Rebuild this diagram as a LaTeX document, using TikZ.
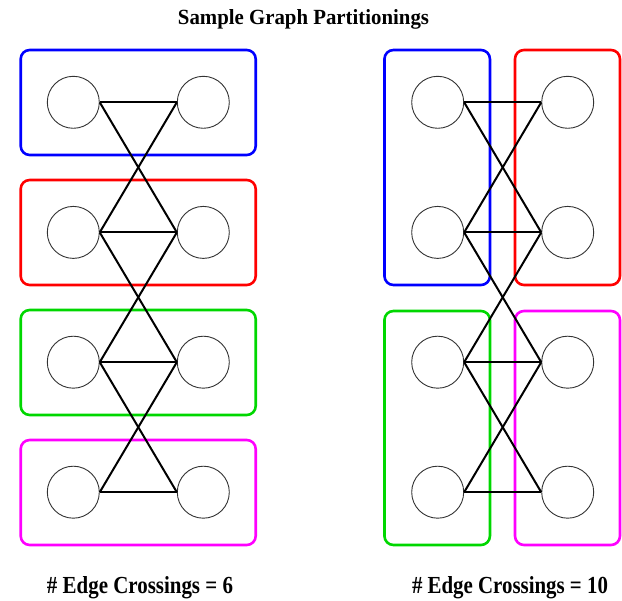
\documentclass[tikz,border=0pt]{standalone}
\usepackage{graphicx}
\usepackage{fontspec}
\setmainfont{Liberation Serif}
\definecolor{pblue}{RGB}{0,0,255}
\definecolor{pred}{RGB}{255,0,0}
\definecolor{pgreen}{RGB}{0,215,0}
\definecolor{pmag}{RGB}{255,0,255}
\tikzset{
  vtx/.style={circle, draw=black!80, line width=0.9pt, minimum size=52pt, inner sep=0pt, fill=white},
  part/.style={rectangle, rounded corners=9pt, line width=2.6pt, inner sep=0pt},
  edge/.style={line width=2pt, black},
  lbl/.style={inner sep=0pt, anchor=base}
}
\begin{document}
\begin{tikzpicture}[x=1pt, y=-1pt]
\useasboundingbox (0,0) rectangle (622,601);
% title and labels
\node[lbl] (title) at (303.5,25) {\resizebox{251pt}{15pt}{\bfseries Sample Graph Partitionings}};
\node[lbl] (cap1) at (140,594) {\resizebox{186pt}{17pt}{\bfseries \# Edge Crossings = 6}};
\node[lbl] (cap2) at (510,594) {\resizebox{196pt}{17pt}{\bfseries \# Edge Crossings = 10}};
% left partition boxes
\node[part, draw=pblue, minimum width=235pt, minimum height=105pt] (lp1) at (138.2,102.5) {};
\node[part, draw=pred, minimum width=235pt, minimum height=105pt] (lp2) at (138.2,232.5) {};
\node[part, draw=pgreen, minimum width=235pt, minimum height=105pt] (lp3) at (138.2,362.5) {};
\node[part, draw=pmag, minimum width=235pt, minimum height=105pt] (lp4) at (138.2,492.5) {};
% right partition boxes
\node[part, draw=pblue, minimum width=105.5pt, minimum height=235pt] (rp1) at (437.2,167.5) {};
\node[part, draw=pred, minimum width=105pt, minimum height=235pt] (rp2) at (567.5,167.5) {};
\node[part, draw=pgreen, minimum width=105.5pt, minimum height=234pt] (rp3) at (437.2,428) {};
\node[part, draw=pmag, minimum width=105pt, minimum height=234pt] (rp4) at (567.5,428) {};
% left graph vertices
\foreach \i/\y in {1/102.3,2/232.4,3/362.2,4/492.2}{
  \node[vtx] (la\i) at (73.3,\y) {};
  \node[vtx] (lb\i) at (203.3,\y) {};
  \node[vtx] (ra\i) at (437.7,\y) {};
  \node[vtx] (rb\i) at (567.7,\y) {};
}
% edges
\foreach \g in {l,r}{
  \foreach \i in {1,2,3,4}{
    \draw[edge] (\g a\i.east) -- (\g b\i.west);
  }
  \foreach \i/\j in {1/2,2/3,3/4}{
    \draw[edge] (\g a\i.east) -- (\g b\j.west);
    \draw[edge] (\g b\i.west) -- (\g a\j.east);
  }
}
\end{tikzpicture}
\end{document}
